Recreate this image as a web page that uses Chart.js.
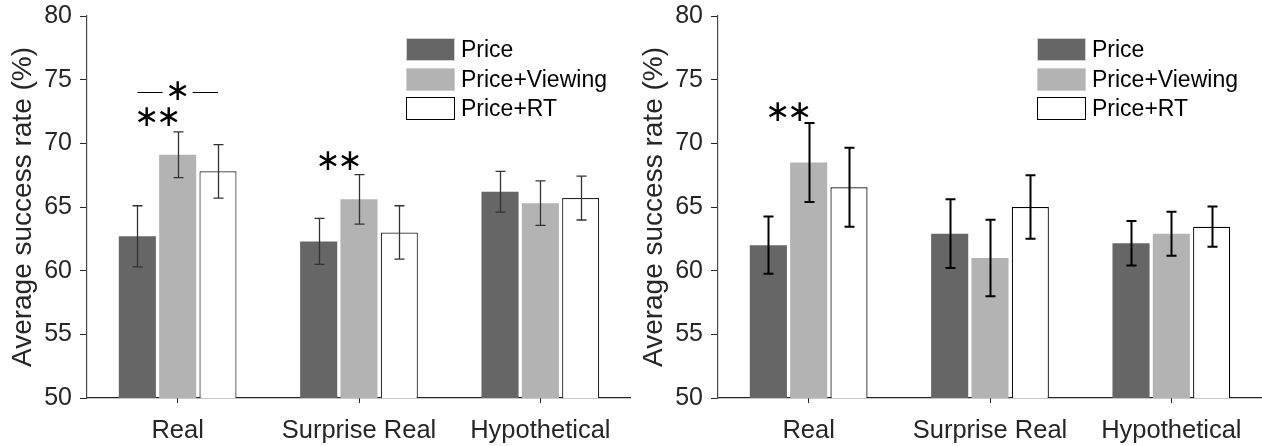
<!DOCTYPE html>
<html>
<head>
<meta charset="utf-8">
<script src="https://cdn.jsdelivr.net/npm/chart.js@4"></script>
<style>
  html, body { margin: 0; padding: 0; background: #fff; }
  .wrap { display: flex; width: 1262px; height: 446px; }
  canvas { display: block; }
</style>
</head>
<body>
<div class="wrap">
  <canvas id="chartLeft" width="631" height="446"></canvas>
  <canvas id="chartRight" width="631" height="446"></canvas>
</div>
<script>
// ===== データ =====
const CATEGORIES = ['Real', 'Surprise Real', 'Hypothetical'];
const SERIES = ['Price', 'Price+Viewing', 'Price+RT'];
const Y_MIN = 50, Y_MAX = 80, Y_STEP = 5;

// left panel
const LEFT_PRICE     = [62.7, 62.3, 66.2];
const LEFT_PRICE_ERR = [2.4, 1.8, 1.6];
const LEFT_VIEW      = [69.1, 65.6, 65.3];
const LEFT_VIEW_ERR  = [1.8, 1.95, 1.75];
const LEFT_RT        = [67.8, 63.0, 65.7];
const LEFT_RT_ERR    = [2.1, 2.1, 1.72];

// right panel
const RIGHT_PRICE     = [62.0, 62.9, 62.15];
const RIGHT_PRICE_ERR = [2.25, 2.7, 1.75];
const RIGHT_VIEW      = [68.5, 61.0, 62.9];
const RIGHT_VIEW_ERR  = [3.1, 3.0, 1.73];
const RIGHT_RT        = [66.55, 65.0, 63.45];
const RIGHT_RT_ERR    = [3.1, 2.5, 1.58];

// significance marks: category, bar a, bar b, number of stars, y value
const LEFT_SIG = [
  { cat: 0, a: 0, b: 1, stars: 2, y: 72.0, bracket: false },
  { cat: 0, a: 0, b: 2, stars: 1, y: 74.0, bracket: true },
  { cat: 1, a: 0, b: 1, stars: 2, y: 68.5, bracket: false },
];
const RIGHT_SIG = [
  { cat: 0, a: 0, b: 1, stars: 2, y: 72.4, bracket: false },
];

const COLORS = ['#666666', '#b3b3b3', '#ffffff'];
const TEXT = '#262626';
const FONT = "'Liberation Sans', Arial, Helvetica, sans-serif";

// ===== プラグイン =====
const errorBarPlugin = {
  id: 'errorBars',
  afterDatasetsDraw(chart, args, opts) {
    const ctx = chart.ctx;
    const y = chart.scales.y;
    ctx.save();
    ctx.strokeStyle = opts.color;
    ctx.lineWidth = opts.width;
    chart.data.datasets.forEach((ds, i) => {
      const meta = chart.getDatasetMeta(i);
      meta.data.forEach((bar, j) => {
        const v = ds.data[j], e = ds.errors[j];
        const top = y.getPixelForValue(v + e);
        const bot = y.getPixelForValue(v - e);
        const cx = Math.round(bar.x) + 0.5;
        const cap = 5;
        ctx.beginPath();
        ctx.moveTo(cx, top); ctx.lineTo(cx, bot);
        ctx.moveTo(cx - cap, top); ctx.lineTo(cx + cap, top);
        ctx.moveTo(cx - cap, bot); ctx.lineTo(cx + cap, bot);
        ctx.stroke();
      });
    });
    ctx.restore();
  }
};

const sigPlugin = {
  id: 'sigMarks',
  afterDraw(chart, args, opts) {
    const ctx = chart.ctx;
    const y = chart.scales.y;
    const spacing = 22;
    ctx.save();
    ctx.fillStyle = '#000';
    ctx.strokeStyle = '#000';
    ctx.lineWidth = 1;
    ctx.font = "30px 'DejaVu Sans'";
    ctx.textAlign = 'center';
    ctx.textBaseline = 'middle';
    (opts.marks || []).forEach(m => {
      const xa = chart.getDatasetMeta(m.a).data[m.cat].x;
      const xb = chart.getDatasetMeta(m.b).data[m.cat].x;
      const cx = (xa + xb) / 2;
      const py = y.getPixelForValue(m.y);
      for (let k = 0; k < m.stars; k++) {
        const sx = cx + (k - (m.stars - 1) / 2) * spacing;
        ctx.fillText('\u2217', sx, py);
      }
      if (m.bracket) {
        const half = m.stars * spacing / 2 + 4;
        const ly = Math.round(py) + 0.5;
        ctx.beginPath();
        ctx.moveTo(xa, ly); ctx.lineTo(cx - half, ly);
        ctx.moveTo(cx + half, ly); ctx.lineTo(xb, ly);
        ctx.stroke();
      }
    });
    ctx.restore();
  }
};

const legendPlugin = {
  id: 'boxLegend',
  afterDraw(chart) {
    const ctx = chart.ctx;
    const x0 = chart.chartArea.left + 319;
    const y0 = 38;
    const row = 29.5, bw = 49, bh = 23;
    ctx.save();
    ctx.font = '23px ' + FONT;
    ctx.textBaseline = 'middle';
    ctx.textAlign = 'left';
    chart.data.datasets.forEach((ds, i) => {
      const by = Math.round(y0 + i * row);
      ctx.fillStyle = ds.backgroundColor;
      ctx.fillRect(x0, by, bw, bh);
      ctx.strokeStyle = i === 2 ? '#000' : '#cfcfcf';
      ctx.lineWidth = 1;
      ctx.strokeRect(x0 + 0.5, by + 0.5, bw - 1, bh - 1);
      ctx.fillStyle = '#000';
      ctx.fillText(ds.label, x0 + bw + 6, by + bh / 2 + 1);
    });
    ctx.restore();
  }
};

// ===== チャート生成 =====
function makeChart(id, values, errors, marks, errColor, errWidth, rtBorder) {
  const ctx = document.getElementById(id);
  return new Chart(ctx, {
    type: 'bar',
    data: {
      labels: CATEGORIES,
      datasets: SERIES.map((s, i) => ({
        label: s,
        data: values[i],
        errors: errors[i],
        backgroundColor: COLORS[i],
        borderColor: i === 2 ? rtBorder : COLORS[i],
        borderWidth: i === 2 ? 1.2 : 0,
        categoryPercentage: 0.667,
        barPercentage: 0.92,
      }))
    },
    options: {
      responsive: false,
      animation: false,
      layout: { padding: { top: 16, right: 0, bottom: 0, left: 0 } },
      plugins: {
        legend: { display: false },
        tooltip: { enabled: false },
        errorBars: { color: errColor, width: errWidth },
        sigMarks: { marks: marks },
      },
      scales: {
        x: {
          offset: true,
          grid: { display: true, drawOnChartArea: false, offset: false, tickLength: 5, color: TEXT },
          border: { display: true, color: TEXT, width: 1.2 },
          ticks: { color: TEXT, font: { family: FONT, size: 25.5 }, padding: 13 },
          afterFit: s => { s.height = 48; s.paddingLeft = 0; s.paddingRight = 0; },
        },
        y: {
          min: Y_MIN, max: Y_MAX,
          grid: { display: true, drawOnChartArea: false, tickLength: 7, color: TEXT },
          border: { display: true, color: '#4a4a4a', width: 1.2 },
          ticks: { stepSize: Y_STEP, color: TEXT, font: { family: FONT, size: 25 }, padding: 8 },
          title: { display: true, text: 'Average success rate (%)', color: TEXT, font: { family: FONT, size: 28 }, padding: { top: 6, bottom: 0 } },
          afterFit: s => { s.width = 87; s.paddingTop = 0; s.paddingBottom = 0; },
        }
      }
    },
    plugins: [errorBarPlugin, sigPlugin, legendPlugin]
  });
}

makeChart('chartLeft',
  [LEFT_PRICE, LEFT_VIEW, LEFT_RT],
  [LEFT_PRICE_ERR, LEFT_VIEW_ERR, LEFT_RT_ERR],
  LEFT_SIG, '#333333', 1.3, '#262626');

makeChart('chartRight',
  [RIGHT_PRICE, RIGHT_VIEW, RIGHT_RT],
  [RIGHT_PRICE_ERR, RIGHT_VIEW_ERR, RIGHT_RT_ERR],
  RIGHT_SIG, '#000000', 2, '#000000');
</script>
</body>
</html>
